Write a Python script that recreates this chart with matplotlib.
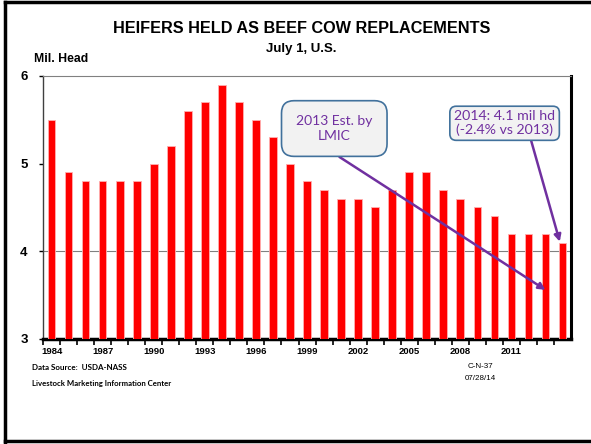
import matplotlib.pyplot as plt
from matplotlib.lines import Line2D
import numpy as np

# heifers held as beef cow replacements, July 1, U.S. (mil. head)
years = list(range(1984, 2015))
heifers = [5.5, 4.9, 4.8, 4.8, 4.8, 4.8, 5.0, 5.2, 5.6, 5.7, 5.9, 5.7, 5.5, 5.3,
           5.0, 4.8, 4.7, 4.6, 4.6, 4.5, 4.7, 4.9, 4.9, 4.7, 4.6, 4.5, 4.4, 4.2,
           4.2, 4.2, 4.1]
tick_years = [1984, 1987, 1990, 1993, 1996, 1999, 2002, 2005, 2008, 2011]
yticks = [3, 4, 5, 6]

purple = '#7030a0'
box_edge = '#41719c'

fig = plt.figure(figsize=(5.91, 4.44), dpi=100)
ax = fig.add_axes([0.0728, 0.2365, 0.8934, 0.5925])

x = np.arange(len(years))
ax.bar(x, heifers, width=0.45, color='#ff0000', edgecolor='#ffb0b0', linewidth=0.6, zorder=3)

ax.set_ylim(3, 6)
ax.set_xlim(-0.5, len(years) - 0.5)
ax.set_yticks(yticks)
ax.set_yticklabels([str(v) for v in yticks], fontsize=9.5, fontweight='bold', family='Liberation Sans')
ax.axhline(4, color='#808080', lw=0.8, zorder=1)

ax.set_xticks([years.index(y) for y in tick_years])
ax.set_xticklabels([str(y) for y in tick_years], fontsize=6.8, fontweight='bold', family='Liberation Sans')
ax.set_xticks(np.arange(len(years)) - 0.5, minor=True)
ax.tick_params(axis='x', which='major', length=0, pad=6)
ax.tick_params(axis='x', which='minor', length=4, width=1.2, direction='out', color='black')
ax.tick_params(axis='y', length=3, width=1, direction='out', pad=8)

ax.spines['top'].set_color('#808080')
ax.spines['top'].set_linewidth(0.8)
ax.spines['left'].set_color('#404040')
ax.spines['left'].set_linewidth(1.0)
ax.spines['right'].set_color('black')
ax.spines['right'].set_linewidth(2.2)
ax.spines['bottom'].set_color('black')
ax.spines['bottom'].set_linewidth(2.5)

# titles
fig.text(0.51, 0.935, 'HEIFERS HELD AS BEEF COW REPLACEMENTS', ha='center', va='center',
         fontsize=11.7, fontweight='bold', family='Liberation Sans')
fig.text(0.51, 0.89, 'July 1, U.S.', ha='center', va='center',
         fontsize=9.5, fontweight='bold', family='Liberation Sans')
fig.text(0.058, 0.866, 'Mil. Head', ha='left', va='center',
         fontsize=8.8, fontweight='bold', family='Liberation Sans')

# callouts
ax.annotate('2013 Est. by\nLMIC', xy=(years.index(2013), 3.56), xytext=(16.6, 5.40),
            ha='center', va='center', fontsize=10, color=purple, family='Lato', linespacing=1.25,
            bbox=dict(boxstyle='round,pad=1.05,rounding_size=0.9', fc='#f2f2f2', ec=box_edge, lw=1.2),
            arrowprops=dict(arrowstyle='-|>', color=purple, lw=1.8, mutation_scale=10,
                            shrinkA=0, shrinkB=0, relpos=(0.26, 0)),
            zorder=5)
ax.annotate('2014: 4.1 mil hd\n(-2.4% vs 2013)', xy=(29.84, 4.11), xytext=(26.6, 5.46),
            ha='center', va='center', fontsize=10.2, color=purple, family='Lato', linespacing=1.1,
            bbox=dict(boxstyle='round,pad=0.3,rounding_size=0.45', fc='#f2f2f2', ec=box_edge, lw=1.2),
            arrowprops=dict(arrowstyle='-|>', color=purple, lw=1.8, mutation_scale=10,
                            shrinkA=0, shrinkB=0, relpos=(0.75, 0)),
            zorder=5)

# footnotes
fig.text(0.054, 0.173, 'Data Source:  USDA-NASS', fontsize=5.8, fontweight='bold',
         family='Lato', va='center')
fig.text(0.054, 0.137, 'Livestock Marketing Information Center', fontsize=5.6, fontweight='bold',
         family='Lato', va='center')
fig.text(0.813, 0.175, 'C-N-37', fontsize=5.8, ha='center', va='center', family='Liberation Sans')
fig.text(0.813, 0.148, '07/28/14', fontsize=5.8, ha='center', va='center', family='Liberation Sans')

# page frame
for xs, ys in [([0.008, 0.008], [0.005, 0.996]), ([0.008, 1.0], [0.996, 0.996]),
               ([0.008, 1.0], [0.007, 0.007])]:
    fig.add_artist(Line2D(xs, ys, color='black', lw=2.5, transform=fig.transFigure))

fig.savefig('out.png', dpi=100)
